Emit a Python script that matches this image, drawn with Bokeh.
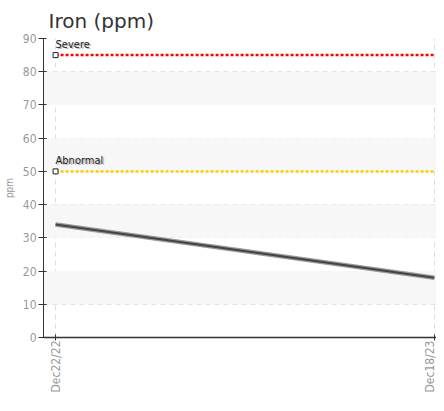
import pandas as pd
from bokeh.plotting import figure
from bokeh.models import BoxAnnotation, FixedTicker, Range1d, ColumnDataSource
from bokeh.core.properties import value
from bokeh.embed import file_html
from bokeh.resources import INLINE
import math

# data
dates = ["2022-12-22", "2023-12-18"]
date_labels = ["Dec22/22", "Dec18/23"]
iron = [34, 18]
severe_level = 85
abnormal_level = 50
y_ticks = [0, 10, 20, 30, 40, 50, 60, 70, 80, 90]

d = pd.to_datetime(pd.Series(dates))
days = [(x - d.iloc[0]).days for x in d]

FONT = "DejaVu Sans Condensed"

p = figure(width=436, height=395, output_backend="svg", toolbar_location=None,
           x_range=Range1d(days[0] - 11.5, days[-1] + 2), y_range=Range1d(0, 90),
           min_border_left=36, min_border_right=0, min_border_bottom=40, min_border_top=0)

p.title.text = "Iron (ppm)"
p.title.text_font = "DejaVu Sans"
p.title.text_font_size = "20px"
p.title.text_font_style = "normal"
p.title.text_color = "#333333"
p.title.offset = 5
p.title.standoff = 12

p.outline_line_color = None
p.background_fill_color = "white"

for lo in (10, 30, 50, 70):
    p.add_layout(BoxAnnotation(bottom=lo, top=lo + 10, fill_color="#f7f7f7", fill_alpha=1, line_color=None, level="underlay"))

# axes
p.yaxis.ticker = FixedTicker(ticks=y_ticks)
p.yaxis.minor_tick_line_color = None
p.yaxis.major_tick_in = 3
p.yaxis.major_tick_out = 5
p.yaxis.axis_line_color = "#333333"
p.yaxis.major_tick_line_color = "#333333"
p.yaxis.major_label_text_color = "#999999"
p.yaxis.major_label_text_font = FONT
p.yaxis.major_label_text_font_size = "12px"
p.yaxis.axis_label = "ppm"
p.yaxis.axis_label_text_font = FONT
p.yaxis.axis_label_text_font_size = "10px"
p.yaxis.axis_label_text_font_style = "normal"
p.yaxis.axis_label_text_color = "#999999"
p.yaxis.axis_label_standoff = 5
p.yaxis.major_label_standoff = 2

p.xaxis.ticker = FixedTicker(ticks=days)
p.xaxis.major_label_overrides = {days[i]: date_labels[i] for i in range(len(days))}
p.xaxis.minor_tick_line_color = None
p.xaxis.major_tick_in = 3
p.xaxis.major_tick_out = 3
p.xaxis.axis_line_color = "#333333"
p.xaxis.axis_line_width = 1.5
p.xaxis.major_tick_line_color = "#333333"
p.xaxis.major_label_orientation = math.pi / 2
p.xaxis.major_label_text_color = "#999999"
p.xaxis.major_label_text_font = FONT
p.xaxis.major_label_text_font_size = "12px"
p.xaxis.major_label_standoff = 0
p.xaxis.axis_label_standoff = 0

p.xgrid.ticker = FixedTicker(ticks=days)
p.xgrid.grid_line_color = "#dddddd"
p.xgrid.grid_line_dash = "5 4"
p.ygrid.ticker = FixedTicker(ticks=y_ticks)
p.ygrid.grid_line_color = "#dddddd"
p.ygrid.grid_line_dash = "5 4"

# threshold lines
for level, color, label in ((severe_level, "#ff0000", "Severe"), (abnormal_level, "#ffcc00", "Abnormal")):
    p.line([days[0], days[-1]], [level, level], line_color=color, line_width=2.5, line_dash="3 2")
    p.scatter([days[0]], [level], marker="square", size=5, fill_color="white", line_color="#222222", line_width=1)
    p.text([days[0] + 0.5], [level], text=[label], text_font=value(FONT), text_font_size="11px",
           text_color="#bbbbbb", x_offset=1, y_offset=-3, text_baseline="bottom")
    p.text([days[0]], [level], text=[label], text_font=value(FONT), text_font_size="11px",
           text_color="#222222", x_offset=0, y_offset=-4, text_baseline="bottom")

# data line
src = ColumnDataSource(dict(x=days, y=iron))
p.line("x", "y", source=src, line_color="#999999", line_width=4.5)
p.line("x", "y", source=src, line_color="#444444", line_width=2)

open("out.html", "w").write(file_html(p, INLINE))
